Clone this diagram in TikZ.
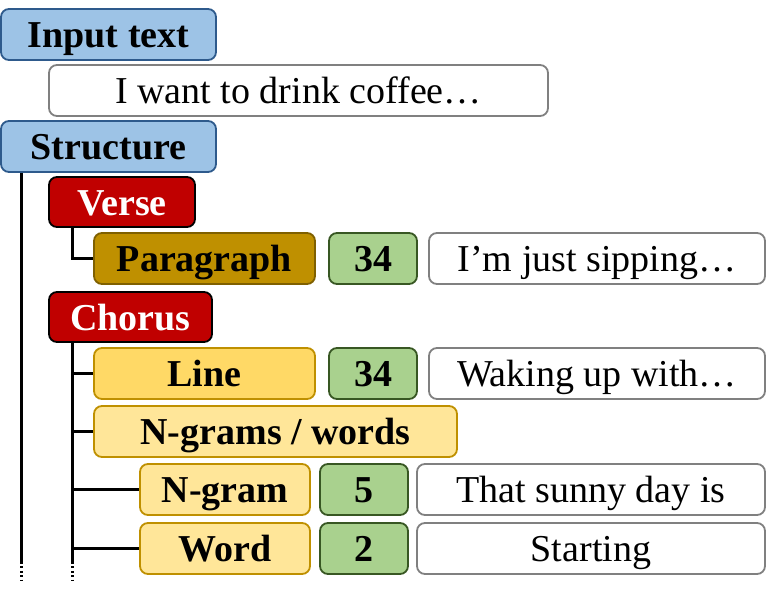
\documentclass[tikz,border=0pt]{standalone}
\usepackage{fontspec}
\setmainfont{Liberation Serif}
\usepackage{tikz}
\usetikzlibrary{positioning,calc}
\definecolor{hdblue}{HTML}{9DC3E6}
\definecolor{hdblueline}{HTML}{2E5A8C}
\definecolor{secred}{HTML}{C00000}
\definecolor{pargold}{HTML}{BF9000}
\definecolor{pargoldline}{HTML}{7F6000}
\definecolor{lineyel}{HTML}{FFD966}
\definecolor{ngyel}{HTML}{FFE699}
\definecolor{numgreen}{HTML}{A9D18E}
\definecolor{numgreenline}{HTML}{385723}
\tikzset{box/.style={rounded corners=4pt, draw, line width=0.9pt, minimum height=25.5pt, inner sep=0pt, text height=17pt, text depth=4pt, font=\fontsize{19}{21}\selectfont\bfseries}}
\tikzset{hdbox/.style={box, fill=hdblue, draw=hdblueline, minimum width=107.5pt}}
\tikzset{secbox/.style={box, fill=secred, draw=black, text=white, minimum height=25pt}}
\tikzset{unitbox/.style={box, draw=pargold}}
\tikzset{numbox/.style={box, fill=numgreen, draw=numgreenline, minimum width=44pt}}
\tikzset{txtbox/.style={box, draw=gray, font=\fontsize{19}{21}\selectfont}}
\tikzset{branch/.style={draw, line width=1.5pt}}
\tikzset{cont/.style={draw, line width=1.5pt, dash pattern=on 1pt off 1.2pt}}

\begin{document}
\begin{tikzpicture}[x=0.5pt, y=-0.5pt]
	\useasboundingbox (0,0) rectangle (767,595);
	
	\node[hdbox] (input) at (108.5,34.5){Input text};
	\node[txtbox, minimum width=249.5pt] (inputtxt) at (298.5,90.5){I want to drink coffee…};
	\node[hdbox] (struct) at (108.5,146.5){Structure};
	
	\node[secbox, minimum width=73pt] (verse) at (122,202){Verse};
	\node[unitbox, fill=pargold, draw=pargoldline, minimum width=110.5pt] (para) at (204.5,258.5){Paragraph};
	\node[numbox] (paranum) at (373,258.5){34};
	\node[txtbox, minimum width=168pt] (paratxt) at (597,258.5){I’m just sipping…};
	
	\node[secbox, minimum width=81.5pt] (chorus) at (130.5,317){Chorus};
	\node[unitbox, fill=lineyel, minimum width=110.5pt] (line) at (204.5,373.5){Line};
	\node[numbox] (linenum) at (373,373.5){34};
	\node[txtbox, minimum width=168pt] (linetxt) at (597,373.5){Waking up with…};
	
	\node[unitbox, fill=ngyel, minimum width=181.5pt] (ngrams) at (275.5,431.5){N-grams / words};
	\node[unitbox, fill=ngyel, minimum width=85pt] (ngram) at (225,489.5){N-gram};
	\node[numbox] (ngramnum) at (364,489.5){5};
	\node[txtbox, minimum width=174pt] (ngramtxt) at (591,489.5){That sunny day is};
	\node[unitbox, fill=ngyel, minimum width=85pt] (word) at (225,548.5){Word};
	\node[numbox] (wordnum) at (364,548.5){2};
	\node[txtbox, minimum width=174pt] (wordtxt) at (591,548.5){Starting};
	
	\coordinate (s1) at (21,562);
	\coordinate (s2) at (21,580);
	\coordinate (c1) at (72,562);
	\coordinate (c2) at (72,580);
	
	\draw[branch] (struct.south -| s1) -- (s1);
	\draw[cont] (s1) -- (s2);
	\draw[branch] (verse.south -| c1) |- (para.west);
	\draw[branch] (chorus.south -| c1) -- (c1);
	\draw[cont] (c1) -- (c2);
	\foreach \n in {line,ngrams,ngram,word}
		\draw[branch] (c1 |- \n.west) -- (\n.west);
\end{tikzpicture}
\end{document}
